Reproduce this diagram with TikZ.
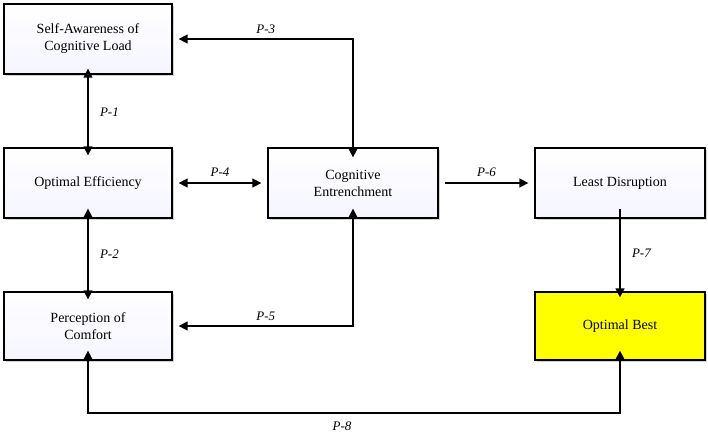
\documentclass[tikz,border=0pt]{standalone}
\usepackage{fontspec}
\setmainfont{Liberation Serif}
\usetikzlibrary{arrows.meta,shadows}
\begin{document}
\begin{tikzpicture}[x=1pt,y=-1pt,
  box/.style={draw=black,line width=1.3pt,minimum width=168pt,minimum height=70pt,align=center,font=\fontsize{14}{17}\selectfont,
    top color=white,bottom color=blue!4,drop shadow={shadow xshift=1.5pt,shadow yshift=-1.5pt,opacity=0.35}},
  ar/.style={line width=1.4pt,-{Triangle[length=9pt,width=9pt]}},
  dar/.style={line width=1.4pt,{Triangle[length=9pt,width=9pt]}-{Triangle[length=9pt,width=9pt]}},
  lab/.style={font=\itshape\fontsize{13}{15}\selectfont}]
\useasboundingbox (0,0) rectangle (708,437);
\node[box] (sa) at (88,39) {Self-Awareness of\\Cognitive Load};
\node[box] (oe) at (88,183) {Optimal Efficiency};
\node[box,minimum height=68pt] (pc) at (88,326) {Perception of\\Comfort};
\node[box,minimum width=170pt] (ce) at (353,183) {Cognitive\\Entrenchment};
\node[box,minimum width=170pt] (ld) at (620,183) {Least Disruption};
\node[box,minimum width=170pt,minimum height=68pt,top color=yellow,bottom color=yellow,fill=yellow] (ob) at (620,326) {Optimal Best};
\draw[dar] ([yshift=6pt]sa.south) -- ([yshift=-8pt]oe.north) node[midway,right=8pt,lab]{P-1};
\draw[dar] ([yshift=10pt]oe.south) -- ([yshift=-8pt]pc.north) node[midway,right=8pt,lab]{P-2};
\draw[dar] ([xshift=6pt]oe.east) -- ([xshift=-6pt]ce.west) node[midway,above=2pt,lab]{P-4};
\draw[dar] ([yshift=-10pt]ce.north) |- ([xshift=6pt]sa.east) node[pos=0.75,above=1pt,lab]{P-3};
\draw[dar] ([yshift=10pt]ce.south) |- ([xshift=6pt]pc.east) node[pos=0.75,above=1pt,lab]{P-5};
\draw[ar] ([xshift=6pt]ce.east) -- ([xshift=-6pt]ld.west) node[midway,above=2pt,lab]{P-6};
\draw[ar] ([yshift=10pt]ld.south) -- ([yshift=-6pt]ob.north) node[midway,right=8pt,lab]{P-7};
\coordinate (l) at (88,413);
\coordinate (r) at (620,413);
\draw[dar] ([yshift=10pt]pc.south) -- (l) -- (r) -- ([yshift=10pt]ob.south);
\node[lab] (p8) at (342,426) {P-8};
\end{tikzpicture}
\end{document}
